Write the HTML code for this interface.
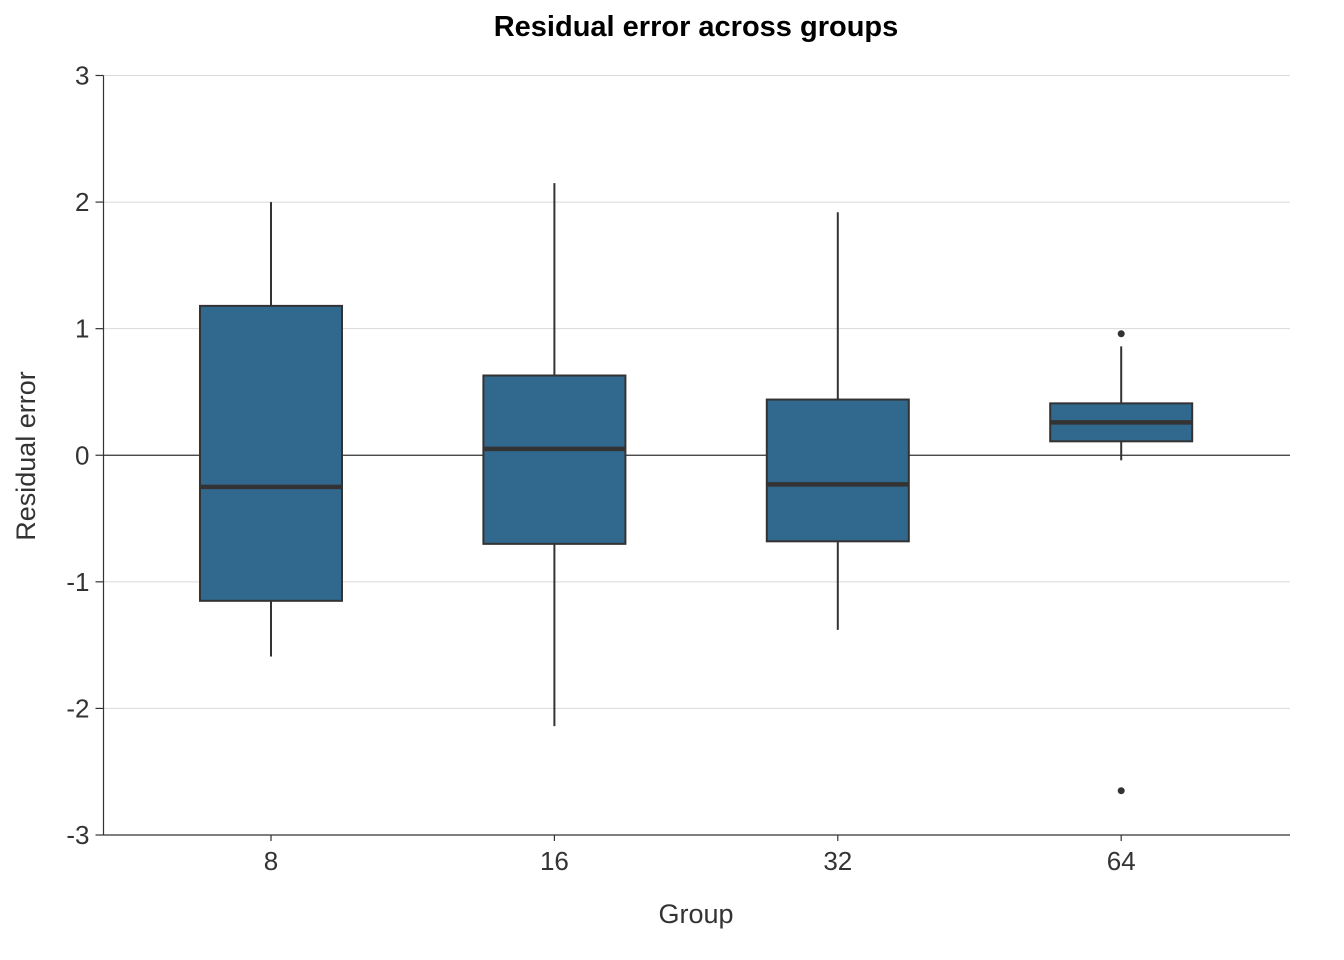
<!DOCTYPE html>
<html><head><meta charset="utf-8"><style>
html,body{margin:0;padding:0;background:#fff;}
svg{display:block;font-family:"Liberation Sans",Arial,sans-serif;}
</style></head><body>
<svg id="chart" width="1344" height="960">
<text x="696" y="36" text-anchor="middle" font-size="29" font-weight="bold" fill="#000">Residual error across groups</text>
<g id="grid"></g><g id="boxes"></g><g id="axes"></g>
<text x="696" y="923" text-anchor="middle" font-size="27" fill="#333">Group</text>
<text transform="translate(35,456) rotate(-90)" text-anchor="middle" font-size="27" fill="#333">Residual error</text>
</svg>
<script>
const categories = ["8","16","32","64"];
const whiskerHigh = [2.00, 2.15, 1.92, 0.86];
const q3 = [1.18, 0.63, 0.44, 0.41];
const medians = [-0.25, 0.05, -0.23, 0.26];
const q1 = [-1.15, -0.70, -0.68, 0.11];
const whiskerLow = [-1.59, -2.14, -1.38, -0.04];
const outlierGroups = ["64","64"];
const outlierValues = [0.96, -2.65];
const yTicks = [-3,-2,-1,0,1,2,3];

const NS="http://www.w3.org/2000/svg";
const L=103.5,R=1290,T=75.5,B=835;
const y=v=>B-(v+3)/6*(B-T);
const x=c=>271+categories.indexOf(c)*283.4;
const bw=142;
function mk(p,tag,a){const e=document.createElementNS(NS,tag);for(const k in a)e.setAttribute(k,a[k]);p.appendChild(e);return e;}
const grid=document.getElementById('grid'),boxes=document.getElementById('boxes'),axes=document.getElementById('axes');
yTicks.forEach(t=>{
  const g=mk(grid,'line',{x1:L,x2:R,y1:y(t),y2:y(t),stroke:t===0?'#333':'#d9d9d9','stroke-width':t===0?1.2:1});
  
  
  const tk=mk(axes,'line',{x1:L-8,x2:L,y1:y(t),y2:y(t),stroke:'#333','stroke-width':1.2});
  
  
  const lb=mk(axes,'text',{x:L-14,y:y(t)+9,'text-anchor':'end','font-size':26,fill:'#333'});
  lb.textContent=t;
  
  
});
const ya=mk(axes,'line',{x1:L,x2:L,y1:T,y2:B,stroke:'#333','stroke-width':1.2});


const xa=mk(axes,'line',{x1:L,x2:R,y1:B,y2:B,stroke:'#333','stroke-width':1.2});


categories.forEach((c,i)=>{
  const cx=x(c);
  const tk=mk(axes,'line',{x1:cx,x2:cx,y1:B,y2:B+6,stroke:'#333','stroke-width':1.2});
  
  
  const lb=mk(axes,'text',{x:cx,y:B+35,'text-anchor':'middle','font-size':26,fill:'#333'});
  lb.textContent=c;
  
  
  const g=mk(boxes,'g',{});
  
  
  const w1=mk(g,'line',{x1:cx,x2:cx,y1:y(whiskerHigh[i]),y2:y(q3[i]),stroke:'#333','stroke-width':2});
  
  
  const w2=mk(g,'line',{x1:cx,x2:cx,y1:y(q1[i]),y2:y(whiskerLow[i]),stroke:'#333','stroke-width':2});
  
  
  const r=mk(g,'rect',{x:cx-bw/2,y:y(q3[i]),width:bw,height:y(q1[i])-y(q3[i]),fill:'#31688e',stroke:'#333','stroke-width':2});
  
  
  const m=mk(g,'line',{x1:cx-bw/2,x2:cx+bw/2,y1:y(medians[i]),y2:y(medians[i]),stroke:'#333','stroke-width':4.5});
  
  
});
outlierValues.forEach((v,i)=>{
  const p=mk(boxes,'circle',{cx:x(outlierGroups[i]),cy:y(v),r:3.5,fill:'#333'});
  
  
});
</script>
</body></html>
